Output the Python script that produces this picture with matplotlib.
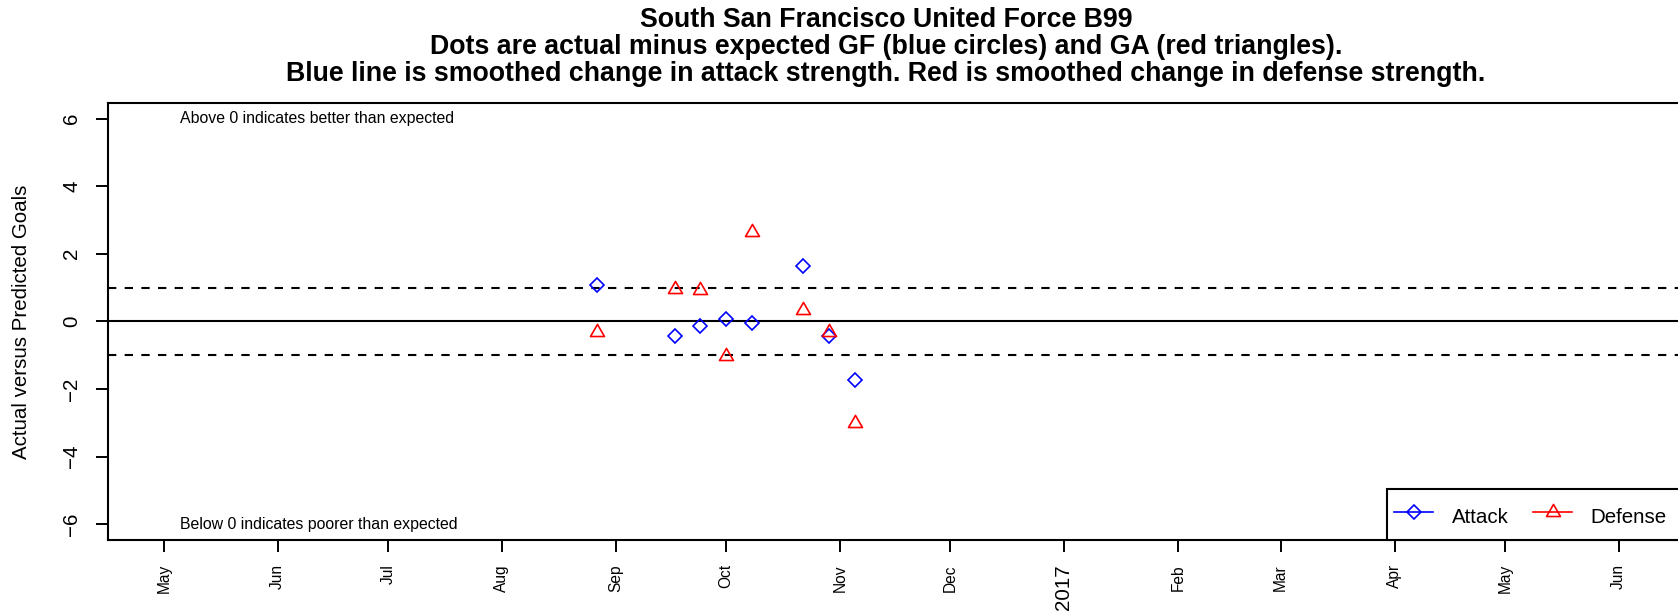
import matplotlib
matplotlib.use("Agg")
import matplotlib.pyplot as plt
import matplotlib.transforms as mtransforms
from matplotlib.lines import Line2D
from matplotlib.patches import Rectangle
from matplotlib.path import Path
import pandas as pd

plt.rcParams['font.family'] = ['Liberation Sans', 'DejaVu Sans']

# games (all Saturdays, autumn 2016)
game_dates = pd.to_datetime(['2016-08-27', '2016-09-17', '2016-09-24', '2016-10-01',
                             '2016-10-08', '2016-10-22', '2016-10-29', '2016-11-05'])
attack = [1.07, -0.44, -0.13, 0.08, -0.04, 1.63, -0.43, -1.73]
defense = [-0.31, 0.96, 0.92, -1.02, 2.65, 0.34, -0.32, -3.0]

month_ticks = pd.date_range('2016-05-01', '2017-06-01', freq='MS')
month_labels = ['May', 'Jun', 'Jul', 'Aug', 'Sep', 'Oct', 'Nov', 'Dec',
                '2017', 'Feb', 'Mar', 'Apr', 'May', 'Jun']
y_ticks = [-6, -4, -2, 0, 2, 4, 6]

title_lines = [
    'South San Francisco United Force B99',
    'Dots are actual minus expected GF (blue circles) and GA (red triangles).',
    'Blue line is smoothed change in attack strength. Red is smoothed change in defense strength.',
]

W, H = 1678, 616
fig = plt.figure(figsize=(W / 100, H / 100), dpi=100)
ax = fig.add_axes([108 / W, 76 / H, 1571 / W, 437.3 / H])

# R-style open triangle
tri = Path([(0, 1), (-0.866, -0.5), (0.866, -0.5), (0, 1)], closed=True)

ax.axhline(0, color='black', lw=1.5)
ax.axhline(1, color='black', lw=1.5, ls=(0, (4, 4)))
ax.axhline(-1, color='black', lw=1.5, ls=(0, (4, 4)))

ax.plot(game_dates, attack, ls='none', marker='D', ms=7.0, mfc='none',
        mec='#0000FF', mew=1.2)
ax.plot(game_dates, defense, ls='none', marker=tri, ms=11.6, mfc='none',
        mec='#FF0000', mew=1.2)

ax.set_xlim(pd.Timestamp('2016-04-15 19:00'), pd.Timestamp('2017-06-17 10:00'))
ax.set_ylim(-6.47, 6.47)

ax.set_yticks(y_ticks)
ax.set_yticklabels([str(v).replace('-', '\u2212') for v in y_ticks],
                   rotation=90, va='center', fontsize=14.8)
ax.set_xticks(month_ticks)
ax.set_xticklabels(month_labels, rotation=90, va='top', ha='center')
for lab in ax.get_xticklabels():
    lab.set_fontsize(14.8 if lab.get_text() == '2017' else 11.2)

ax.tick_params(axis='both', length=8.4, width=1.4, direction='out', color='black')
ax.tick_params(axis='x', pad=9)
ax.tick_params(axis='y', pad=11)
for side in ['left', 'top', 'bottom']:
    ax.spines[side].set_linewidth(1.5)
ax.spines['right'].set_visible(False)

ax.set_ylabel('Actual versus Predicted Goals', fontsize=14.8)
ax.yaxis.set_label_coords(-(108 - 31) / 1571, 0.5)

blend = mtransforms.blended_transform_factory(ax.transAxes, ax.transData)
ax.text(72 / 1571, 6, 'Above 0 indicates better than expected', transform=blend,
        ha='left', va='center', fontsize=11.4)
ax.text(72 / 1571, -6, 'Below 0 indicates poorer than expected', transform=blend,
        ha='left', va='center', fontsize=11.4)

# legend box runs off the right edge like in the original
leg_x0 = (1387 - 108) / 1571
ax.add_patch(Rectangle((leg_x0, 0), 0.3, 51 / 437.3, transform=ax.transAxes,
                       facecolor='white', edgecolor='black', lw=1.5,
                       clip_on=False, zorder=4))
handles = [
    Line2D([], [], color='#0000FF', lw=1.2, marker='D', ms=7.0, mfc='none', mew=1.2),
    Line2D([], [], color='#FF0000', lw=1.2, marker=tri, ms=11.6, mfc='none', mew=1.2),
]
leg = ax.legend(handles, ['Attack', 'Defense'], loc='lower left',
                bbox_to_anchor=(leg_x0, 0), ncol=2, fontsize=14.8,
                frameon=False, borderpad=0.35, handlelength=1.9, handleheight=2.0,
                handletextpad=0.9, columnspacing=1.2, borderaxespad=0)
leg.set_zorder(5)

for i, line in enumerate(title_lines):
    fig.text(886 / W, 1 - (20 + 27 * i) / H, line, ha='center', va='center',
             fontsize=19.3, fontweight='bold')

fig.savefig('out.png', dpi=100)
